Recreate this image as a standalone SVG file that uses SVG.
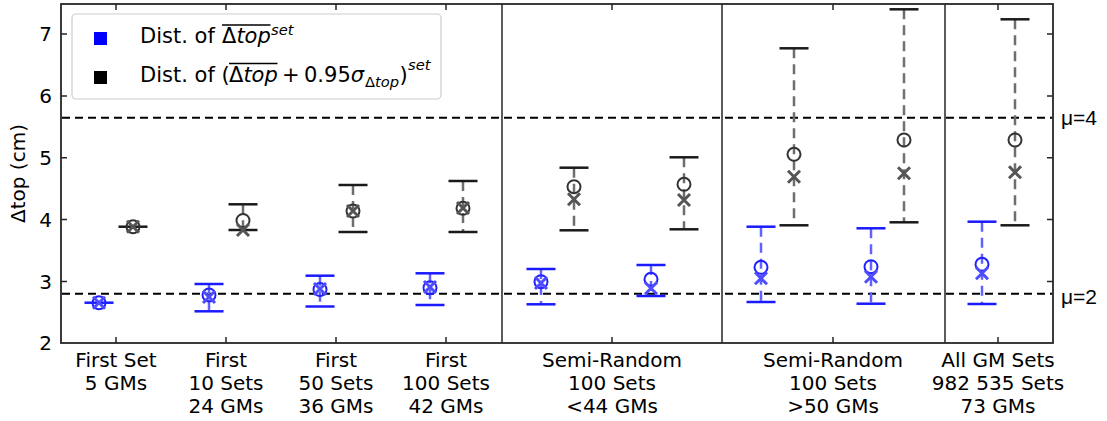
<svg xmlns="http://www.w3.org/2000/svg" width="1107" height="421" viewBox="0 0 1107 421">
<style>
text{font-family:"DejaVu Sans",sans-serif;fill:#000}
.tick{font-size:20px}
.xl{font-size:20px;text-anchor:middle}
.lg{font-size:21px}
.it{font-style:italic}
.sm{font-size:14.7px}
.mu{font-family:"Liberation Sans",Arial,sans-serif;font-size:21px}
.spine{stroke:#262626;stroke-width:1.8;fill:none}
.tk{stroke:#262626;stroke-width:1.5}
.sep{stroke:#333;stroke-width:1.6}
.ref{stroke:#000;stroke-width:2;stroke-dasharray:8 5}
.bl{stroke:#6262ff;stroke-width:2.5;stroke-dasharray:10 6}
.bc{stroke:#1a1aff;stroke-width:2.5}
.bo{stroke:#2020ff;stroke-width:2;fill:none}
.bx{stroke:#4d4dff;stroke-width:3;fill:none}
.kl{stroke:#6e6e6e;stroke-width:2.5;stroke-dasharray:10 6}
.kc{stroke:#1a1a1a;stroke-width:2.5}
.ko{stroke:#333;stroke-width:2;fill:none}
.kx{stroke:#555;stroke-width:3;fill:none}
</style>
<rect width="1107" height="421" fill="#fff"/>
<g id="reference-lines">
<line class="ref" x1="62" y1="117.7" x2="1052" y2="117.7"/>
<line class="ref" x1="62" y1="293.7" x2="1052" y2="293.7"/>
</g>
<g id="separators">
<line class="sep" x1="502" y1="4" x2="502" y2="343"/>
<line class="sep" x1="722" y1="4" x2="722" y2="343"/>
<line class="sep" x1="945" y1="4" x2="945" y2="343"/>
</g>
<g id="connectors">
<line class="bl" x1="209" y1="284" x2="209" y2="311.3"/>
<line class="kl" x1="243" y1="204.3" x2="243" y2="230"/>
<line class="bl" x1="320" y1="275.7" x2="320" y2="306.5"/>
<line class="kl" x1="353" y1="185" x2="353" y2="232"/>
<line class="bl" x1="430" y1="273.3" x2="430" y2="305"/>
<line class="kl" x1="463" y1="181" x2="463" y2="232"/>
<line class="bl" x1="541" y1="269" x2="541" y2="304.3"/>
<line class="kl" x1="574" y1="167.7" x2="574" y2="230.3"/>
<line class="bl" x1="651" y1="265" x2="651" y2="296"/>
<line class="kl" x1="684" y1="157.3" x2="684" y2="229.3"/>
<line class="bl" x1="761" y1="226.7" x2="761" y2="302"/>
<line class="kl" x1="794" y1="48.3" x2="794" y2="225.3"/>
<line class="bl" x1="871" y1="228.3" x2="871" y2="303.7"/>
<line class="kl" x1="904" y1="9.3" x2="904" y2="222.3"/>
<line class="bl" x1="982" y1="221.7" x2="982" y2="304"/>
<line class="kl" x1="1015" y1="19.3" x2="1015" y2="225.3"/>
</g>
<g id="first-set">
<line class="bc" x1="84.5" y1="302.7" x2="113.5" y2="302.7"/>
<circle class="bo" cx="99" cy="302.7" r="6.5"/>
<path class="bx" d="M93 296.7L105 308.7M93 308.7L105 296.7"/>
<line class="kc" x1="118.5" y1="226.7" x2="147.5" y2="226.7"/>
<circle class="ko" cx="133" cy="226.7" r="6.5"/>
<path class="kx" d="M127 220.7L139 232.7M127 232.7L139 220.7"/>
</g>
<g id="first-10-sets">
<line class="bc" x1="194.5" y1="284" x2="223.5" y2="284"/>
<line class="bc" x1="194.5" y1="311.3" x2="223.5" y2="311.3"/>
<circle class="bo" cx="209" cy="295" r="6.5"/>
<path class="bx" d="M203 291L215 303M203 303L215 291"/>
<line class="kc" x1="228.5" y1="204.3" x2="257.5" y2="204.3"/>
<line class="kc" x1="228.5" y1="230" x2="257.5" y2="230"/>
<circle class="ko" cx="243" cy="220.5" r="6.5"/>
<path class="kx" d="M237 224L249 236M237 236L249 224"/>
</g>
<g id="first-50-sets">
<line class="bc" x1="305.5" y1="275.7" x2="334.5" y2="275.7"/>
<line class="bc" x1="305.5" y1="306.5" x2="334.5" y2="306.5"/>
<circle class="bo" cx="320" cy="289.5" r="6.5"/>
<path class="bx" d="M314 283L326 295M314 295L326 283"/>
<line class="kc" x1="338.5" y1="185" x2="367.5" y2="185"/>
<line class="kc" x1="338.5" y1="232" x2="367.5" y2="232"/>
<circle class="ko" cx="353" cy="211" r="6.5"/>
<path class="kx" d="M347 205L359 217M347 217L359 205"/>
</g>
<g id="first-100-sets">
<line class="bc" x1="415.5" y1="273.3" x2="444.5" y2="273.3"/>
<line class="bc" x1="415.5" y1="305" x2="444.5" y2="305"/>
<circle class="bo" cx="430" cy="287.7" r="6.5"/>
<path class="bx" d="M424 281L436 293M424 293L436 281"/>
<line class="kc" x1="448.5" y1="181" x2="477.5" y2="181"/>
<line class="kc" x1="448.5" y1="232" x2="477.5" y2="232"/>
<circle class="ko" cx="463" cy="208.3" r="6.5"/>
<path class="kx" d="M457 202L469 214M457 214L469 202"/>
</g>
<g id="semi-random-lt44-a">
<line class="bc" x1="526.5" y1="269" x2="555.5" y2="269"/>
<line class="bc" x1="526.5" y1="304.3" x2="555.5" y2="304.3"/>
<circle class="bo" cx="541" cy="281.7" r="6.5"/>
<path class="bx" d="M535 277L547 289M535 289L547 277"/>
<line class="kc" x1="559.5" y1="167.7" x2="588.5" y2="167.7"/>
<line class="kc" x1="559.5" y1="230.3" x2="588.5" y2="230.3"/>
<circle class="ko" cx="574" cy="186.7" r="6.5"/>
<path class="kx" d="M568 193.3L580 205.3M568 205.3L580 193.3"/>
</g>
<g id="semi-random-lt44-b">
<line class="bc" x1="636.5" y1="265" x2="665.5" y2="265"/>
<line class="bc" x1="636.5" y1="296" x2="665.5" y2="296"/>
<circle class="bo" cx="651" cy="279.3" r="6.5"/>
<path class="bx" d="M645 282.3L657 294.3M645 294.3L657 282.3"/>
<line class="kc" x1="669.5" y1="157.3" x2="698.5" y2="157.3"/>
<line class="kc" x1="669.5" y1="229.3" x2="698.5" y2="229.3"/>
<circle class="ko" cx="684" cy="184.3" r="6.5"/>
<path class="kx" d="M678 194L690 206M678 206L690 194"/>
</g>
<g id="semi-random-gt50-a">
<line class="bc" x1="746.5" y1="226.7" x2="775.5" y2="226.7"/>
<line class="bc" x1="746.5" y1="302" x2="775.5" y2="302"/>
<circle class="bo" cx="761" cy="267.3" r="6.5"/>
<path class="bx" d="M755 272.3L767 284.3M755 284.3L767 272.3"/>
<line class="kc" x1="779.5" y1="48.3" x2="808.5" y2="48.3"/>
<line class="kc" x1="779.5" y1="225.3" x2="808.5" y2="225.3"/>
<circle class="ko" cx="794" cy="154.3" r="6.5"/>
<path class="kx" d="M788 170.7L800 182.7M788 182.7L800 170.7"/>
</g>
<g id="semi-random-gt50-b">
<line class="bc" x1="856.5" y1="228.3" x2="885.5" y2="228.3"/>
<line class="bc" x1="856.5" y1="303.7" x2="885.5" y2="303.7"/>
<circle class="bo" cx="871" cy="266.7" r="6.5"/>
<path class="bx" d="M865 270.7L877 282.7M865 282.7L877 270.7"/>
<line class="kc" x1="889.5" y1="9.3" x2="918.5" y2="9.3"/>
<line class="kc" x1="889.5" y1="222.3" x2="918.5" y2="222.3"/>
<circle class="ko" cx="904" cy="140" r="6.5"/>
<path class="kx" d="M898 167.3L910 179.3M898 179.3L910 167.3"/>
</g>
<g id="all-gm-sets">
<line class="bc" x1="967.5" y1="221.7" x2="996.5" y2="221.7"/>
<line class="bc" x1="967.5" y1="304" x2="996.5" y2="304"/>
<circle class="bo" cx="982" cy="264.3" r="6.5"/>
<path class="bx" d="M976 267.3L988 279.3M976 279.3L988 267.3"/>
<line class="kc" x1="1000.5" y1="19.3" x2="1029.5" y2="19.3"/>
<line class="kc" x1="1000.5" y1="225.3" x2="1029.5" y2="225.3"/>
<circle class="ko" cx="1015" cy="140" r="6.5"/>
<path class="kx" d="M1009 166.3L1021 178.3M1009 178.3L1021 166.3"/>
</g>
<g id="axes">
<rect class="spine" x="61" y="4" width="992" height="339"/>
<path class="tk" d="M61 34H67M61 96H67M61 157.8H67M61 219.5H67M61 281.5H67M1053 34H1047M1053 96H1047M1053 157.8H1047M1053 219.5H1047M1053 281.5H1047M116 343V337M226 343V337M336 343V337M446 343V337M612 343V337M833 343V337M998 343V337M116 4V10M226 4V10M336 4V10M446 4V10M612 4V10M833 4V10M998 4V10"/>
<text class="tick" x="52" y="350" text-anchor="end">2</text>
<text class="tick" x="52" y="288.5" text-anchor="end">3</text>
<text class="tick" x="52" y="226.5" text-anchor="end">4</text>
<text class="tick" x="52" y="164.8" text-anchor="end">5</text>
<text class="tick" x="52" y="103" text-anchor="end">6</text>
<text class="tick" x="52" y="41" text-anchor="end">7</text>
<text class="tick" transform="translate(25,173.5) rotate(-90)" text-anchor="middle">Δtop (cm)</text>
</g>
<g id="x-labels">
<text class="xl" x="116" y="367.3">First Set</text>
<text class="xl" x="116" y="390">5 GMs</text>
<text class="xl" x="226" y="367.3">First</text>
<text class="xl" x="226" y="390">10 Sets</text>
<text class="xl" x="226" y="412.7">24 GMs</text>
<text class="xl" x="336" y="367.3">First</text>
<text class="xl" x="336" y="390">50 Sets</text>
<text class="xl" x="336" y="412.7">36 GMs</text>
<text class="xl" x="446" y="367.3">First</text>
<text class="xl" x="446" y="390">100 Sets</text>
<text class="xl" x="446" y="412.7">42 GMs</text>
<text class="xl" x="612" y="367.3">Semi-Random</text>
<text class="xl" x="612" y="390">100 Sets</text>
<text class="xl" x="612" y="412.7">&lt;44 GMs</text>
<text class="xl" x="833" y="367.3">Semi-Random</text>
<text class="xl" x="833" y="390">100 Sets</text>
<text class="xl" x="833" y="412.7">&gt;50 GMs</text>
<text class="xl" x="998" y="367.3">All GM Sets</text>
<text class="xl" x="998" y="390">982 535 Sets</text>
<text class="xl" x="998" y="412.7">73 GMs</text>
</g>
<g id="mu-labels">
<text class="mu" x="1061" y="125">μ=4</text>
<text class="mu" x="1061" y="304">μ=2</text>
</g>
<g id="legend">
<rect x="72" y="14" width="369" height="85" rx="4" fill="#fff" fill-opacity="0.8" stroke="#cccccc" stroke-width="1.2"/>
<rect x="94" y="32" width="13" height="13" fill="#0000ff"/>
<rect x="94" y="71" width="13" height="13" fill="#000"/>
<text class="lg" x="140" y="43.3">Dist. of </text>
<text class="lg" x="222" y="43.3">Δ<tspan class="it">top</tspan></text>
<line x1="222" y1="25" x2="270.5" y2="25" stroke="#000" stroke-width="1.3"/>
<text class="lg it sm" x="271" y="35">set</text>
<text class="lg" x="140" y="81.7">Dist. of (</text>
<text class="lg" x="229" y="81.7">Δ<tspan class="it">top</tspan></text>
<line x1="229" y1="63.5" x2="277.5" y2="63.5" stroke="#000" stroke-width="1.3"/>
<text class="lg" x="282" y="81.7">+</text>
<text class="lg" x="304" y="81.7">0.95<tspan class="it">σ</tspan></text>
<text class="lg sm" x="365" y="86.5">Δ<tspan class="it">top</tspan></text>
<text class="lg" x="399.5" y="81.7">)</text>
<text class="lg it sm" x="408" y="70">set</text>
</g>
</svg>
